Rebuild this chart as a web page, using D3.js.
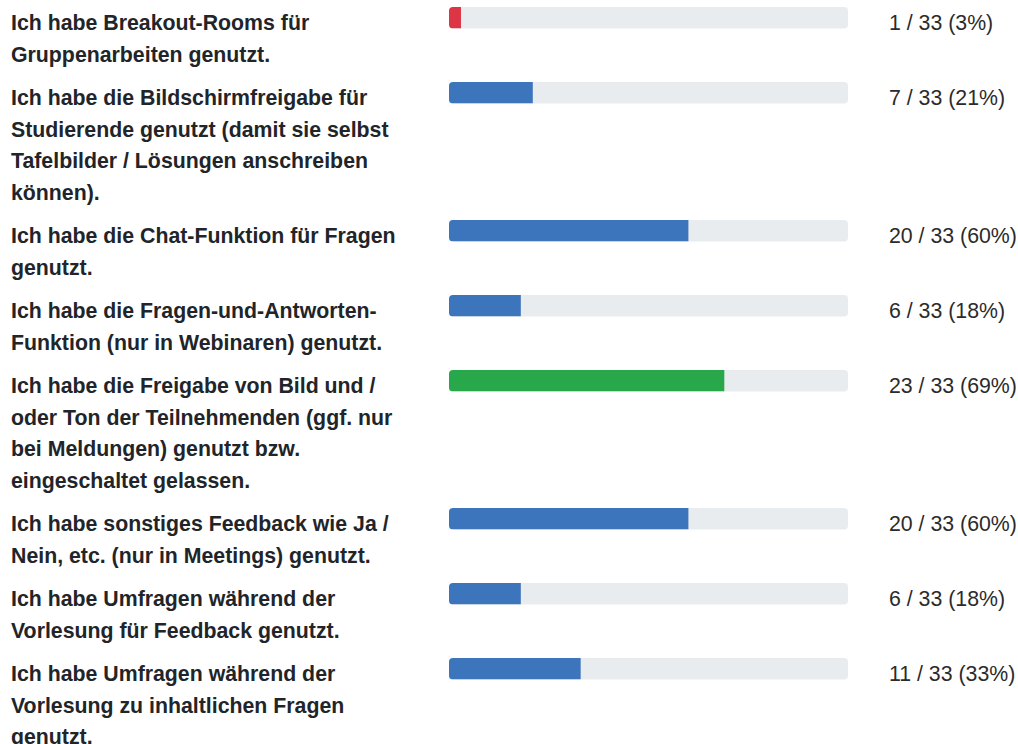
<!DOCTYPE html>
<html><head><meta charset="utf-8">
<script src="https://cdn.jsdelivr.net/npm/d3@7"></script>
<style>
html,body{margin:0;padding:0;background:#fff;}
svg{display:block;}
</style></head>
<body>
<script>
const categories = [
  ["Ich habe Breakout-Rooms für", "Gruppenarbeiten genutzt."],
  ["Ich habe die Bildschirmfreigabe für", "Studierende genutzt (damit sie selbst", "Tafelbilder / Lösungen anschreiben", "können)."],
  ["Ich habe die Chat-Funktion für Fragen", "genutzt."],
  ["Ich habe die Fragen-und-Antworten-", "Funktion (nur in Webinaren) genutzt."],
  ["Ich habe die Freigabe von Bild und /", "oder Ton der Teilnehmenden (ggf. nur", "bei Meldungen) genutzt bzw.", "eingeschaltet gelassen."],
  ["Ich habe sonstiges Feedback wie Ja /", "Nein, etc. (nur in Meetings) genutzt."],
  ["Ich habe Umfragen während der", "Vorlesung für Feedback genutzt."],
  ["Ich habe Umfragen während der", "Vorlesung zu inhaltlichen Fragen", "genutzt."]
];
const counts = [1, 7, 20, 6, 23, 20, 6, 11];
const totals = [33, 33, 33, 33, 33, 33, 33, 33];
const percents = [3, 21, 60, 18, 69, 60, 18, 33];
const barColors = ["#dc3545", "#3d75bc", "#3d75bc", "#3d75bc", "#28a84a", "#3d75bc", "#3d75bc", "#3d75bc"];

const W = 1018, H = 744;
const lineH = 31.5, rowGap = 12, top0 = 7, barH = 21.5;

const rows = categories.map((lines, i) => ({
  lines, count: counts[i], total: totals[i], pct: percents[i], color: barColors[i]
}));
let acc = top0;
rows.forEach(r => { r.y = acc; acc += r.lines.length * lineH + rowGap; });

const x = d3.scaleLinear().domain([0, 100]).range([449, 848]);

const svg = d3.select("body").append("svg").attr("width", W).attr("height", H);
const defs = svg.append("defs");

const g = svg.selectAll("g.row").data(rows).join("g").attr("class", "row")
  .attr("transform", d => `translate(0,${d.y})`);

g.each(function(d, i) {
  defs.append("clipPath").attr("id", "clip" + i)
    .append("rect").attr("x", x(0)).attr("y", 0)
    .attr("width", x(100) - x(0)).attr("height", barH).attr("rx", 4).attr("ry", 4);
});

g.append("rect").attr("x", x(0)).attr("y", 0)
  .attr("width", x(100) - x(0)).attr("height", barH)
  .attr("rx", 4).attr("ry", 4).attr("fill", "#e9ecef");

g.append("rect").attr("x", x(0)).attr("y", 0)
  .attr("width", d => x(d.pct) - x(0)).attr("height", barH)
  .attr("fill", d => d.color)
  .attr("clip-path", (d, i) => `url(#clip${i})`);

const lab = g.append("text")
  .attr("font-family", "'Liberation Sans', Arial, Helvetica, sans-serif")
  .attr("font-size", 21.3).attr("font-weight", "bold").attr("fill", "#212529");
lab.selectAll("tspan").data(d => d.lines).join("tspan")
  .attr("x", 11).attr("y", (t, j) => 23 + j * lineH).text(t => t);

g.append("text")
  .attr("x", 889).attr("y", 23)
  .attr("font-family", "'Liberation Sans', Arial, Helvetica, sans-serif")
  .attr("font-size", 21.3).attr("fill", "#2b2b2b")
  .text(d => `${d.count} / ${d.total} (${d.pct}%)`);
</script>
</body></html>
